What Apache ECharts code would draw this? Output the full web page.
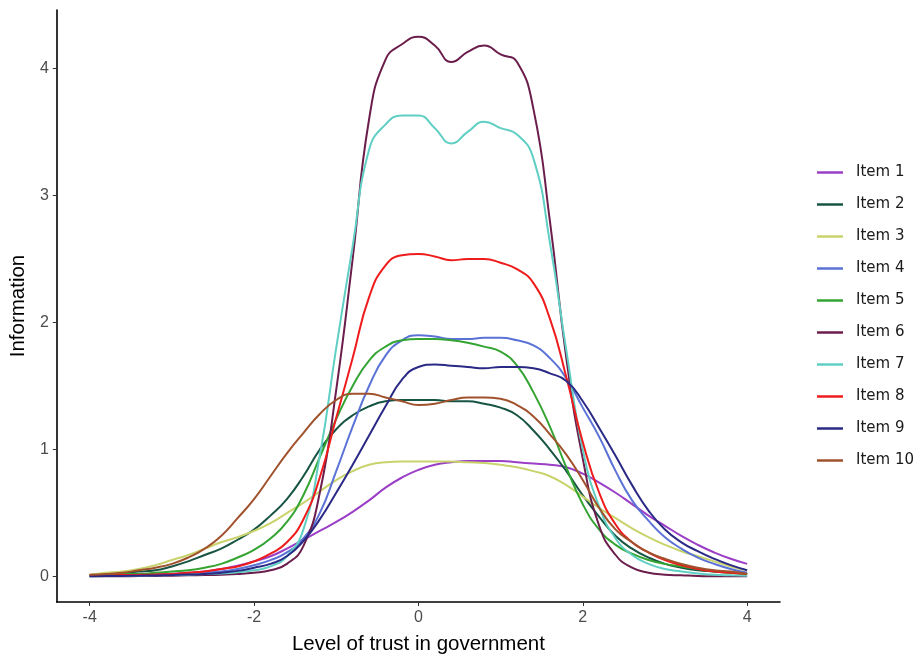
<!DOCTYPE html>
<html>
<head>
<meta charset="utf-8">
<script src="https://cdn.jsdelivr.net/npm/echarts@6/dist/echarts.min.js"></script>
<style>html,body{margin:0;padding:0;background:#fff;}#c{width:921px;height:660px;}</style>
</head>
<body>
<div id="c"></div>
<script>
// Theta grid (level of trust in government)
var thetas = [-4.0,-3.8,-3.6,-3.4,-3.2,-3.0,-2.8,-2.6,-2.4,-2.2,-2.0,-1.8,-1.6,-1.4,-1.2,-1.0,-0.8,-0.6,-0.4,-0.2,0,0.2,0.4,0.6,0.8,1.0,1.2,1.4,1.6,1.8,2.0,2.2,2.4,2.6,2.8,3.0,3.2,3.4,3.6,3.8,4.0];

var item1 = [0.005,0.007,0.01,0.013,0.017,0.023,0.03,0.04,0.06,0.085,0.12,0.16,0.22,0.29,0.36,0.43,0.51,0.6,0.7,0.78,0.84,0.88,0.9,0.91,0.91,0.91,0.9,0.89,0.88,0.86,0.81,0.74,0.66,0.57,0.48,0.4,0.32,0.25,0.19,0.14,0.1];
var item2 = [0.01,0.02,0.03,0.04,0.05,0.08,0.12,0.17,0.22,0.29,0.37,0.48,0.61,0.79,1.0,1.16,1.27,1.34,1.38,1.39,1.39,1.39,1.38,1.38,1.36,1.33,1.27,1.15,1.0,0.83,0.64,0.47,0.32,0.22,0.15,0.1,0.07,0.05,0.04,0.03,0.02];
var item3 = [0.015,0.03,0.04,0.06,0.09,0.13,0.17,0.22,0.27,0.31,0.36,0.42,0.5,0.58,0.67,0.76,0.83,0.88,0.9,0.905,0.905,0.905,0.905,0.9,0.895,0.88,0.86,0.83,0.79,0.72,0.63,0.54,0.46,0.38,0.31,0.25,0.2,0.16,0.12,0.08,0.05];
var item4 = [0.005,0.007,0.01,0.013,0.017,0.02,0.025,0.03,0.04,0.06,0.09,0.13,0.19,0.3,0.5,0.83,1.18,1.5,1.74,1.86,1.9,1.89,1.87,1.87,1.88,1.88,1.86,1.82,1.72,1.56,1.33,1.1,0.83,0.6,0.44,0.31,0.22,0.15,0.1,0.06,0.03];
var item5 = [0.01,0.01,0.02,0.02,0.03,0.04,0.05,0.07,0.1,0.15,0.21,0.3,0.43,0.64,0.94,1.24,1.5,1.7,1.81,1.86,1.87,1.87,1.86,1.84,1.81,1.77,1.66,1.45,1.18,0.86,0.57,0.37,0.25,0.18,0.13,0.1,0.08,0.06,0.04,0.03,0.02];
var item6 = [0.002,0.002,0.003,0.004,0.005,0.007,0.01,0.012,0.015,0.02,0.03,0.05,0.1,0.24,0.66,1.47,2.5,3.6,4.07,4.19,4.25,4.18,4.05,4.13,4.18,4.11,4.05,3.68,2.8,1.72,0.93,0.4,0.17,0.07,0.03,0.015,0.01,0.005,0.003,0.002,0.002];
var item7 = [0.003,0.004,0.005,0.007,0.01,0.012,0.015,0.02,0.025,0.035,0.05,0.08,0.16,0.37,0.95,1.8,2.6,3.36,3.56,3.63,3.63,3.53,3.41,3.5,3.58,3.53,3.48,3.29,2.63,1.78,1.0,0.55,0.3,0.17,0.1,0.06,0.04,0.025,0.015,0.01,0.007];
var item8 = [0.01,0.01,0.012,0.014,0.017,0.02,0.03,0.04,0.06,0.08,0.12,0.18,0.27,0.45,0.78,1.25,1.72,2.2,2.45,2.53,2.54,2.52,2.49,2.5,2.5,2.47,2.42,2.31,2.03,1.57,1.06,0.66,0.41,0.27,0.19,0.13,0.09,0.06,0.04,0.03,0.02];
var item9 = [0.003,0.004,0.005,0.007,0.009,0.012,0.016,0.02,0.03,0.045,0.07,0.1,0.16,0.28,0.45,0.66,0.88,1.11,1.34,1.55,1.65,1.67,1.66,1.65,1.64,1.65,1.65,1.64,1.6,1.54,1.38,1.17,0.95,0.72,0.52,0.37,0.27,0.2,0.14,0.09,0.05];
var item10 = [0.015,0.02,0.03,0.05,0.07,0.1,0.15,0.22,0.32,0.46,0.61,0.79,0.97,1.13,1.28,1.39,1.44,1.44,1.41,1.38,1.35,1.36,1.39,1.41,1.41,1.4,1.35,1.26,1.12,0.96,0.76,0.54,0.37,0.27,0.19,0.14,0.1,0.07,0.05,0.04,0.02];

var seriesNames = ['Item 1','Item 2','Item 3','Item 4','Item 5','Item 6','Item 7','Item 8','Item 9','Item 10'];
var seriesValues = [item1,item2,item3,item4,item5,item6,item7,item8,item9,item10];
var seriesColors = ['#9B3FC6','#175443','#C9D36C','#5B72D6','#34A432','#6B1D4C','#5FCFC4','#EE1C1C','#2A2A86','#A0522D'];

var xTicks = [-4,-2,0,2,4];
var yTicks = [0,1,2,3,4];

var chart = echarts.init(document.getElementById('c'), null, {renderer:'canvas'});

var series = seriesNames.map(function(n,i){
  return {
    name: n,
    type: 'line',
    data: thetas.map(function(t,j){ return [t, seriesValues[i][j]]; }),
    smooth: 0.5,
    showSymbol: false,
    symbol: 'none',
    lineStyle: { width: 2, color: seriesColors[i] },
    itemStyle: { color: seriesColors[i] },
    z: 2
  };
});

chart.setOption({
  animation: false,
  backgroundColor: '#ffffff',
  grid: { left: 55, right: 141, top: 10, bottom: 53, containLabel: false },
  legend: {
    orient: 'vertical',
    left: 812,
    top: 160,
    icon: 'rect',
    itemWidth: 26,
    itemHeight: 2.5,
    itemGap: 17,
    textStyle: { fontFamily: 'DejaVu Sans', fontSize: 15, color: '#1a1a1a', padding: [0,0,0,8] },
    data: seriesNames
  },
  xAxis: {
    type: 'value',
    min: -4.4,
    max: 4.4,
    name: 'Level of trust in government',
    nameLocation: 'middle',
    nameGap: 32,
    nameTextStyle: { fontFamily: 'Liberation Sans', fontSize: 20.5, color: '#000' },
    axisLine: { show: true, onZero: false, lineStyle: { color: '#000', width: 1.6 } },
    axisTick: { show: true, length: 4, customValues: xTicks, lineStyle: { color: '#333', width: 1 } },
    axisLabel: { customValues: xTicks, color: '#4d4d4d', fontFamily: 'Liberation Sans', fontSize: 16, margin: 8 },
    splitLine: { show: false }
  },
  yAxis: {
    type: 'value',
    min: -0.2,
    max: 4.46,
    name: 'Information',
    nameLocation: 'middle',
    nameGap: 25,
    nameRotate: 90,
    nameTextStyle: { fontFamily: 'Liberation Sans', fontSize: 20.5, color: '#000' },
    axisLine: { show: true, onZero: false, lineStyle: { color: '#000', width: 1.6 } },
    axisTick: { show: true, length: 4, customValues: yTicks, lineStyle: { color: '#333', width: 1 } },
    axisLabel: { customValues: yTicks, color: '#4d4d4d', fontFamily: 'Liberation Sans', fontSize: 16, margin: 8 },
    splitLine: { show: false }
  },
  series: series
});
</script>
</body>
</html>
